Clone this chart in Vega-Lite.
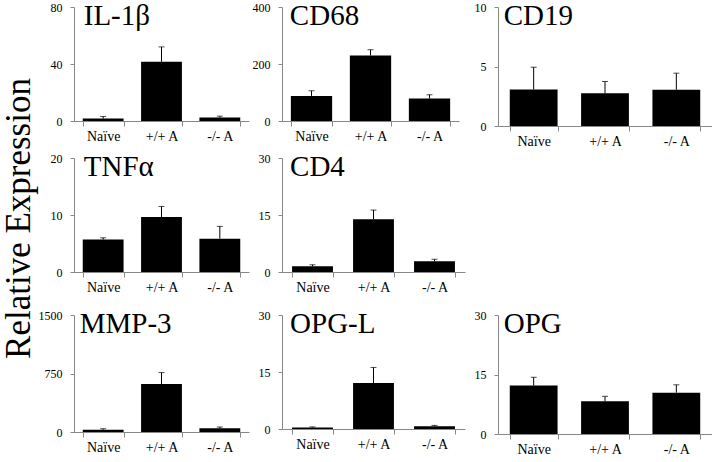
{
  "$schema": "https://vega.github.io/schema/vega-lite/v6.json",
  "padding": {"left": 1, "top": 1, "right": 0, "bottom": 0},
  "background": "white",
  "datasets": {
    "d": [
      {"gene": "IL-1β", "group": "Naïve", "value": 1.7, "err": 3.2},
      {"gene": "IL-1β", "group": "+/+ A", "value": 41.5, "err": 52},
      {"gene": "IL-1β", "group": "-/- A", "value": 2.4, "err": 3.4},
      {"gene": "CD68", "group": "Naïve", "value": 88, "err": 106},
      {"gene": "CD68", "group": "+/+ A", "value": 230, "err": 250},
      {"gene": "CD68", "group": "-/- A", "value": 79, "err": 92},
      {"gene": "CD19", "group": "Naïve", "value": 3.07, "err": 4.94},
      {"gene": "CD19", "group": "+/+ A", "value": 2.76, "err": 3.74},
      {"gene": "CD19", "group": "-/- A", "value": 3.05, "err": 4.44},
      {"gene": "TNFα", "group": "Naïve", "value": 5.7, "err": 6.0},
      {"gene": "TNFα", "group": "+/+ A", "value": 9.65, "err": 11.5},
      {"gene": "TNFα", "group": "-/- A", "value": 5.85, "err": 8.0},
      {"gene": "CD4", "group": "Naïve", "value": 1.5, "err": 1.9},
      {"gene": "CD4", "group": "+/+ A", "value": 13.9, "err": 16.3},
      {"gene": "CD4", "group": "-/- A", "value": 2.8, "err": 3.35},
      {"gene": "MMP-3", "group": "Naïve", "value": 29, "err": 42},
      {"gene": "MMP-3", "group": "+/+ A", "value": 614, "err": 762},
      {"gene": "MMP-3", "group": "-/- A", "value": 47, "err": 64},
      {"gene": "OPG-L", "group": "Naïve", "value": 0.4, "err": 0.55},
      {"gene": "OPG-L", "group": "+/+ A", "value": 12.1, "err": 16.2},
      {"gene": "OPG-L", "group": "-/- A", "value": 0.75, "err": 0.95},
      {"gene": "OPG", "group": "Naïve", "value": 12.2, "err": 14.3},
      {"gene": "OPG", "group": "+/+ A", "value": 8.25, "err": 9.5},
      {"gene": "OPG", "group": "-/- A", "value": 10.4, "err": 12.4}
    ]
  },
  "title": {"text": "Relative Expression", "orient": "left", "anchor": "middle", "fontSize": 35, "font": "Liberation Serif", "fontWeight": "normal", "color": "black", "offset": -34, "dx": 10, "dy": 0, "baseline": "bottom"},
  "columns": 3,
  "align": "each",
  "bounds": "flush",
  "spacing": {"row": 32, "column": 33},
  "concat": [
    {
      "width": 175, "height": 114,
      "data": {"name": "d"},
      "transform": [{"filter": "datum.gene === 'IL-1β'"}],
      "encoding": {"x": {"field": "group", "type": "nominal", "sort": ["Naïve", "+/+ A", "-/- A"], "scale": {"paddingInner": 0.3, "paddingOuter": 0.15}, "title": null}},
      "layer": [
        {"mark": {"type": "bar", "color": "black"}, "encoding": {"y": {"field": "value", "type": "quantitative", "scale": {"domain": [0, 80], "nice": false}, "axis": {"values": [0, 40, 80], "format": "d"}, "title": null}}},
        {"mark": {"type": "rule", "color": "black", "strokeWidth": 1}, "encoding": {"y": {"field": "value", "type": "quantitative", "title": null}, "y2": {"field": "err"}}},
        {"mark": {"type": "tick", "color": "black", "size": 6, "thickness": 1}, "encoding": {"y": {"field": "err", "type": "quantitative", "title": null}}},
        {"transform": [{"filter": "datum.group === 'Naïve'"}], "mark": {"type": "text", "align": "left", "baseline": "alphabetic", "fontSize": 29, "font": "Liberation Serif", "color": "black", "dx": 1, "dy": 18}, "encoding": {"x": {"field": "group", "type": "nominal", "sort": ["Naïve", "+/+ A", "-/- A"], "bandPosition": 0}, "y": {"datum": 80}, "text": {"field": "gene"}}}
      ]
    },
    {
      "width": 177, "height": 114,
      "data": {"name": "d"},
      "transform": [{"filter": "datum.gene === 'CD68'"}],
      "encoding": {"x": {"field": "group", "type": "nominal", "sort": ["Naïve", "+/+ A", "-/- A"], "scale": {"paddingInner": 0.3, "paddingOuter": 0.15}, "title": null}},
      "layer": [
        {"mark": {"type": "bar", "color": "black"}, "encoding": {"y": {"field": "value", "type": "quantitative", "scale": {"domain": [0, 400], "nice": false}, "axis": {"values": [0, 200, 400], "format": "d"}, "title": null}}},
        {"mark": {"type": "rule", "color": "black", "strokeWidth": 1}, "encoding": {"y": {"field": "value", "type": "quantitative", "title": null}, "y2": {"field": "err"}}},
        {"mark": {"type": "tick", "color": "black", "size": 6, "thickness": 1}, "encoding": {"y": {"field": "err", "type": "quantitative", "title": null}}},
        {"transform": [{"filter": "datum.group === 'Naïve'"}], "mark": {"type": "text", "align": "left", "baseline": "alphabetic", "fontSize": 29, "font": "Liberation Serif", "color": "black", "dx": -1, "dy": 18}, "encoding": {"x": {"field": "group", "type": "nominal", "sort": ["Naïve", "+/+ A", "-/- A"], "bandPosition": 0}, "y": {"datum": 400}, "text": {"field": "gene"}}}
      ]
    },
    {
      "width": 214, "height": 119,
      "data": {"name": "d"},
      "transform": [{"filter": "datum.gene === 'CD19'"}],
      "encoding": {"x": {"field": "group", "type": "nominal", "sort": ["Naïve", "+/+ A", "-/- A"], "scale": {"paddingInner": 0.33, "paddingOuter": 0.165}, "title": null}},
      "layer": [
        {"mark": {"type": "bar", "color": "black"}, "encoding": {"y": {"field": "value", "type": "quantitative", "scale": {"domain": [0, 10], "nice": false}, "axis": {"values": [0, 5, 10], "format": "d"}, "title": null}}},
        {"mark": {"type": "rule", "color": "black", "strokeWidth": 1}, "encoding": {"y": {"field": "value", "type": "quantitative", "title": null}, "y2": {"field": "err"}}},
        {"mark": {"type": "tick", "color": "black", "size": 6, "thickness": 1}, "encoding": {"y": {"field": "err", "type": "quantitative", "title": null}}},
        {"transform": [{"filter": "datum.group === 'Naïve'"}], "mark": {"type": "text", "align": "left", "baseline": "alphabetic", "fontSize": 29, "font": "Liberation Serif", "color": "black", "dx": -6, "dy": 18}, "encoding": {"x": {"field": "group", "type": "nominal", "sort": ["Naïve", "+/+ A", "-/- A"], "bandPosition": 0}, "y": {"datum": 10}, "text": {"field": "gene"}}}
      ]
    },
    {
      "width": 175, "height": 114,
      "data": {"name": "d"},
      "transform": [{"filter": "datum.gene === 'TNFα'"}],
      "encoding": {"x": {"field": "group", "type": "nominal", "sort": ["Naïve", "+/+ A", "-/- A"], "scale": {"paddingInner": 0.3, "paddingOuter": 0.15}, "title": null}},
      "layer": [
        {"mark": {"type": "bar", "color": "black"}, "encoding": {"y": {"field": "value", "type": "quantitative", "scale": {"domain": [0, 20], "nice": false}, "axis": {"values": [0, 10, 20], "format": "d"}, "title": null}}},
        {"mark": {"type": "rule", "color": "black", "strokeWidth": 1}, "encoding": {"y": {"field": "value", "type": "quantitative", "title": null}, "y2": {"field": "err"}}},
        {"mark": {"type": "tick", "color": "black", "size": 6, "thickness": 1}, "encoding": {"y": {"field": "err", "type": "quantitative", "title": null}}},
        {"transform": [{"filter": "datum.group === 'Naïve'"}], "mark": {"type": "text", "align": "left", "baseline": "alphabetic", "fontSize": 29, "font": "Liberation Serif", "color": "black", "dx": 1, "dy": 18}, "encoding": {"x": {"field": "group", "type": "nominal", "sort": ["Naïve", "+/+ A", "-/- A"], "bandPosition": 0}, "y": {"datum": 20}, "text": {"field": "gene"}}}
      ]
    },
    {
      "width": 183, "height": 114,
      "data": {"name": "d"},
      "transform": [{"filter": "datum.gene === 'CD4'"}],
      "encoding": {"x": {"field": "group", "type": "nominal", "sort": ["Naïve", "+/+ A", "-/- A"], "scale": {"paddingInner": 0.33, "paddingOuter": 0.165}, "title": null}},
      "layer": [
        {"mark": {"type": "bar", "color": "black"}, "encoding": {"y": {"field": "value", "type": "quantitative", "scale": {"domain": [0, 30], "nice": false}, "axis": {"values": [0, 15, 30], "format": "d"}, "title": null}}},
        {"mark": {"type": "rule", "color": "black", "strokeWidth": 1}, "encoding": {"y": {"field": "value", "type": "quantitative", "title": null}, "y2": {"field": "err"}}},
        {"mark": {"type": "tick", "color": "black", "size": 6, "thickness": 1}, "encoding": {"y": {"field": "err", "type": "quantitative", "title": null}}},
        {"transform": [{"filter": "datum.group === 'Naïve'"}], "mark": {"type": "text", "align": "left", "baseline": "alphabetic", "fontSize": 29, "font": "Liberation Serif", "color": "black", "dx": -2, "dy": 18}, "encoding": {"x": {"field": "group", "type": "nominal", "sort": ["Naïve", "+/+ A", "-/- A"], "bandPosition": 0}, "y": {"datum": 30}, "text": {"field": "gene"}}}
      ]
    },
    {
      "width": 10, "height": 125,
      "data": {"values": []},
      "mark": {"type": "point", "opacity": 0}
    },
    {
      "width": 175, "height": 117,
      "data": {"name": "d"},
      "transform": [{"filter": "datum.gene === 'MMP-3'"}],
      "encoding": {"x": {"field": "group", "type": "nominal", "sort": ["Naïve", "+/+ A", "-/- A"], "scale": {"paddingInner": 0.3, "paddingOuter": 0.15}, "title": null}},
      "layer": [
        {"mark": {"type": "bar", "color": "black"}, "encoding": {"y": {"field": "value", "type": "quantitative", "scale": {"domain": [0, 1500], "nice": false}, "axis": {"values": [0, 750, 1500], "format": "d"}, "title": null}}},
        {"mark": {"type": "rule", "color": "black", "strokeWidth": 1}, "encoding": {"y": {"field": "value", "type": "quantitative", "title": null}, "y2": {"field": "err"}}},
        {"mark": {"type": "tick", "color": "black", "size": 6, "thickness": 1}, "encoding": {"y": {"field": "err", "type": "quantitative", "title": null}}},
        {"transform": [{"filter": "datum.group === 'Naïve'"}], "mark": {"type": "text", "align": "left", "baseline": "alphabetic", "fontSize": 29, "font": "Liberation Serif", "color": "black", "dx": -3, "dy": 18}, "encoding": {"x": {"field": "group", "type": "nominal", "sort": ["Naïve", "+/+ A", "-/- A"], "bandPosition": 0}, "y": {"datum": 1500}, "text": {"field": "gene"}}}
      ]
    },
    {
      "width": 183, "height": 114,
      "data": {"name": "d"},
      "transform": [{"filter": "datum.gene === 'OPG-L'"}],
      "encoding": {"x": {"field": "group", "type": "nominal", "sort": ["Naïve", "+/+ A", "-/- A"], "scale": {"paddingInner": 0.33, "paddingOuter": 0.165}, "title": null}},
      "layer": [
        {"mark": {"type": "bar", "color": "black"}, "encoding": {"y": {"field": "value", "type": "quantitative", "scale": {"domain": [0, 30], "nice": false}, "axis": {"values": [0, 15, 30], "format": "d"}, "title": null}}},
        {"mark": {"type": "rule", "color": "black", "strokeWidth": 1}, "encoding": {"y": {"field": "value", "type": "quantitative", "title": null}, "y2": {"field": "err"}}},
        {"mark": {"type": "tick", "color": "black", "size": 6, "thickness": 1}, "encoding": {"y": {"field": "err", "type": "quantitative", "title": null}}},
        {"transform": [{"filter": "datum.group === 'Naïve'"}], "mark": {"type": "text", "align": "left", "baseline": "alphabetic", "fontSize": 29, "font": "Liberation Serif", "color": "black", "dx": -2, "dy": 18}, "encoding": {"x": {"field": "group", "type": "nominal", "sort": ["Naïve", "+/+ A", "-/- A"], "bandPosition": 0}, "y": {"datum": 30}, "text": {"field": "gene"}}}
      ]
    },
    {
      "width": 214, "height": 119,
      "data": {"name": "d"},
      "transform": [{"filter": "datum.gene === 'OPG'"}],
      "encoding": {"x": {"field": "group", "type": "nominal", "sort": ["Naïve", "+/+ A", "-/- A"], "scale": {"paddingInner": 0.33, "paddingOuter": 0.165}, "title": null}},
      "layer": [
        {"mark": {"type": "bar", "color": "black"}, "encoding": {"y": {"field": "value", "type": "quantitative", "scale": {"domain": [0, 30], "nice": false}, "axis": {"values": [0, 15, 30], "format": "d"}, "title": null}}},
        {"mark": {"type": "rule", "color": "black", "strokeWidth": 1}, "encoding": {"y": {"field": "value", "type": "quantitative", "title": null}, "y2": {"field": "err"}}},
        {"mark": {"type": "tick", "color": "black", "size": 6, "thickness": 1}, "encoding": {"y": {"field": "err", "type": "quantitative", "title": null}}},
        {"transform": [{"filter": "datum.group === 'Naïve'"}], "mark": {"type": "text", "align": "left", "baseline": "alphabetic", "fontSize": 29, "font": "Liberation Serif", "color": "black", "dx": -6, "dy": 18}, "encoding": {"x": {"field": "group", "type": "nominal", "sort": ["Naïve", "+/+ A", "-/- A"], "bandPosition": 0}, "y": {"datum": 30}, "text": {"field": "gene"}}}
      ]
    }
  ],
  "config": {
    "view": {"stroke": null},
    "font": "Liberation Serif",
    "axis": {"grid": false, "domainColor": "#888888", "tickColor": "#888888", "labelColor": "black", "labelFont": "Liberation Serif"},
    "axisX": {"labelAngle": 0, "labelFontSize": 14, "tickSize": 5, "labelPadding": 3, "tickBand": "extent"},
    "axisY": {"labelFontSize": 12, "tickSize": 4, "labelPadding": 8}
  }
}
